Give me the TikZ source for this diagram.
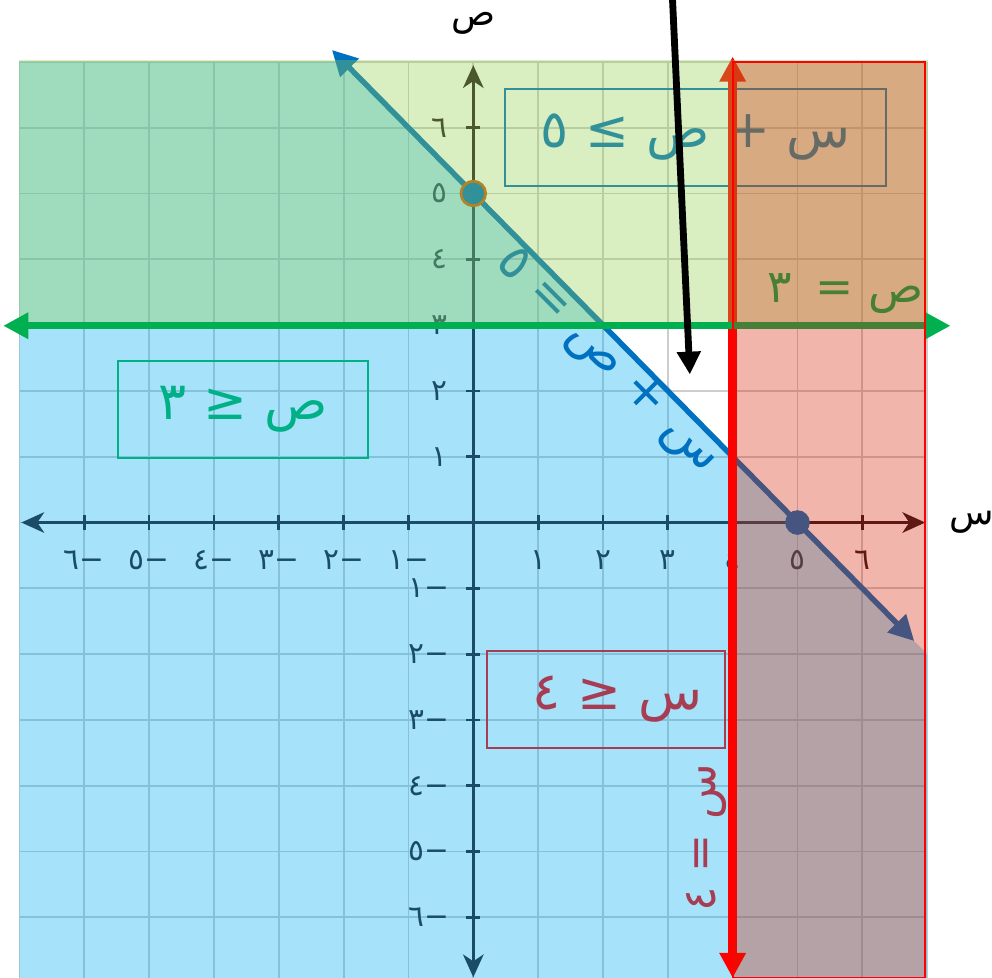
\documentclass[tikz,border=0pt]{standalone}
\usepackage{fontspec}
\usepackage{xcolor}
\usepackage{tikz}
\usetikzlibrary{arrows.meta, positioning, shapes}
\newfontfamily\arabicfont[Script=Arabic]{DejaVu Sans}
\TeXXeTstate=1
\definecolor{shadeblue}{HTML}{00B0F0}
\definecolor{shadegreen}{HTML}{92D050}
\definecolor{shadered}{RGB}{213,30,0}
\definecolor{lineblue}{HTML}{0070C0}
\definecolor{linegreen}{HTML}{00B050}
\definecolor{axiscol}{RGB}{40,22,30}
\definecolor{gridcol}{HTML}{CDCDCD}
\definecolor{dotring}{HTML}{C55A11}

\begin{document}
\begin{tikzpicture}[x=1cm, y=1.015cm,
        gridline/.style={draw=gridcol, line width=0.8pt},
        axisline/.style={draw=axiscol, line width=1.4pt, {Stealth[length=10pt, width=9pt, inset=3pt]}-{Stealth[length=10pt, width=9pt, inset=3pt]}},
        axtick/.style={draw=axiscol, line width=1.2pt},
        ticklbl/.style={font=\arabicfont\fontsize{13}{15}\selectfont, text=axiscol, inner sep=1pt},
        axname/.style={font=\arabicfont\fontsize{16}{18}\selectfont, inner sep=1pt},
        box/.style={rectangle, draw, line width=0.8pt, minimum height=1.5cm, inner sep=0pt, font=\arabicfont\fontsize{23}{27}\selectfont},
        eqlbl/.style={font=\arabicfont\fontsize{22}{26}\selectfont, inner sep=0pt},
        smalllbl/.style={font=\arabicfont\fontsize{20}{24}\selectfont, inner sep=0pt},
        bigline/.style={line width=#1, {Triangle[length=11pt, width=11pt]}-{Triangle[length=11pt, width=11pt]}},
        ptdot/.style={circle, minimum size=0.38cm, inner sep=0pt, fill=lineblue}
        ]
        \useasboundingbox (-7.30,-6.92) rectangle (8.00,7.94);
        \clip (-7.30,-6.92) rectangle (8.00,7.94);

        \foreach \k in {-7,...,7} {
            \draw[gridline] (\k,-6.92) -- (\k,7);
            \draw[gridline] (-7,\k) -- (7,\k);
        }

        \coordinate (xl) at (-6.97,0);
        \coordinate (xr) at (6.97,0);
        \coordinate (yb) at (0,-6.91);
        \coordinate (yt) at (0,6.95);
        \draw[axisline] (xl) -- (xr);
        \draw[axisline] (yb) -- (yt);
        \foreach \i/\lb in {1/١, 2/٢, 3/٣, 4/٤, 5/٥, 6/٦} {
            \draw[axtick] (\i,-0.11) -- (\i,0.11);
            \draw[axtick] (-\i,-0.11) -- (-\i,0.11);
            \draw[axtick] (-0.11,\i) -- (0.11,\i);
            \draw[axtick] (-0.11,-\i) -- (0.11,-\i);
            \node[ticklbl] (xp\i) at (\i,-0.57) {\lb};
            \node[ticklbl] (xm\i) at (-\i,-0.57) {−\lb};
            \node[ticklbl] (yp\i) at (-0.52,\i) {\lb};
            \node[ticklbl] (ym\i) at (-0.68,-\i) {−\lb};
        }
        \node[axname] (ylbl) at (0.01,7.58) {ص};
        \node[axname] (xlbl) at (7.68,0.01) {س};

        \node[box, draw=linegreen, text=linegreen, minimum width=3.86cm] (ybox) at (-3.55,1.72) {\beginR ص ≤ ٣\endR};
        \node[box, draw=red, text=red, minimum width=3.67cm] (xbox) at (2.05,-2.69) {\hspace{0.35cm}\beginR س ≤ ٤\endR};
        \node[smalllbl, text=red, rotate=90] (xeq) at (3.59,-4.79) {\beginR س = ٤\endR};
        \node[box, draw=lineblue, text=lineblue, minimum width=5.88cm] (sbox) at (3.43,5.855) {\beginR س + ص ≥ ٥\endR};

        \fill[shadeblue, opacity=0.35] (-7,7) -- (-2,7) -- (7,-2) -- (7,-6.92) -- (-7,-6.92) -- cycle;

        \coordinate (ba) at (-2.18,7.18);
        \coordinate (bb) at (6.8,-1.8);
        \draw[bigline=2.4pt, lineblue] (ba) -- (bb);
        \node[ptdot, draw=dotring, line width=1.2pt] (p1) at (0,5) {};
        \node[ptdot] (p2) at (5,0) {};
        \node[eqlbl, text=lineblue, rotate=-45] (beq) at (2.06,2.44) {\beginR س + ص = ٥\endR};

        \coordinate (ra) at (4,7.08);
        \coordinate (rb) at (4,-6.92);
        \draw[bigline=3.8pt, red] (ra) -- (rb);

        \fill[shadegreen, opacity=0.35] (-7,3) rectangle (7.02,7.03);

        \coordinate (ga) at (-7.25,2.99);
        \coordinate (gb) at (7.36,2.99);
        \draw[bigline=3pt, linegreen] (ga) -- (gb);
        \node[smalllbl, text=linegreen] (yeq) at (5.74,3.48) {\beginR ص = \hspace{0.15cm}٣\endR};

        \fill[shadered, opacity=0.33] (4,-6.92) rectangle (6.97,7.0);
        \draw[red, line width=1pt] (4,-6.92) rectangle (6.97,7.0);

        \coordinate (ptrtop) at (3.07,8.0);
        \coordinate (ptrtip) at (3.34,2.25);
        \draw[line width=3pt, -{Triangle[length=10pt, width=10pt]}] (ptrtop) -- (ptrtip);
\end{tikzpicture}
\end{document}
